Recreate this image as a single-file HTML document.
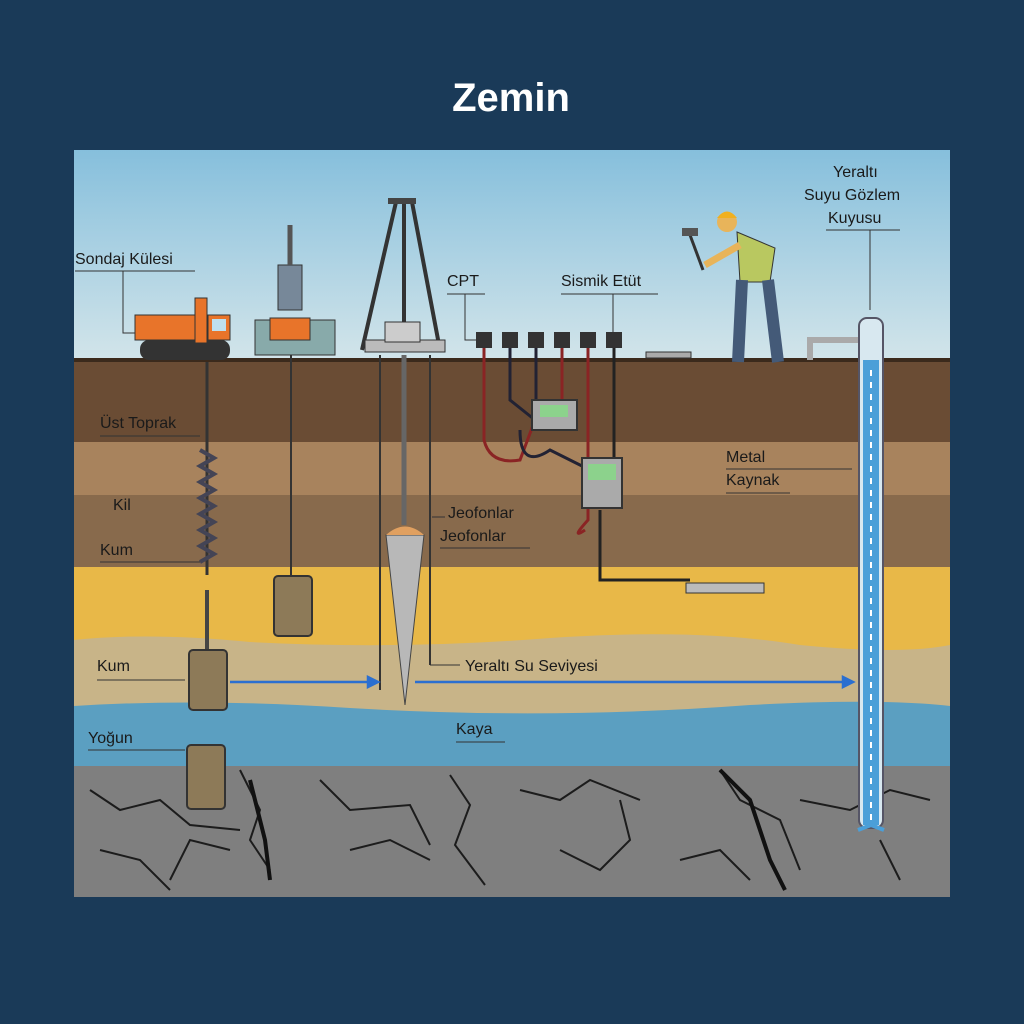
<!DOCTYPE html>
<html><head><meta charset="utf-8"><style>
html,body{margin:0;padding:0;background:#1a3a58;}
svg{display:block}
text{font-family:"Liberation Sans",sans-serif;fill:#1a1a1a}
</style></head><body>
<svg width="1024" height="1024" viewBox="0 0 1024 1024">
<defs>
<linearGradient id="sky" x1="0" y1="0" x2="0" y2="1">
<stop offset="0" stop-color="#86bfdc"/><stop offset="1" stop-color="#d3e5ea"/></linearGradient>
</defs>
<rect width="1024" height="1024" fill="#1a3a58"/>
<text x="511" y="111" text-anchor="middle" font-size="40" font-weight="bold" style="fill:#fff">Zemin</text>
<g>
<rect x="74" y="150" width="876" height="212" fill="url(#sky)"/>
<rect x="74" y="360" width="876" height="82" fill="#6a4c34"/>
<rect x="74" y="442" width="876" height="55" fill="#a8835d"/>
<rect x="74" y="495" width="876" height="72" fill="#886a4c"/>
<rect x="74" y="567" width="876" height="140" fill="#e8b848"/>
<path d="M74 640Q150 632 250 642Q400 650 550 638Q700 628 800 645Q900 655 950 645V730H74Z" fill="#c8b488"/>
<path d="M74 706Q200 698 350 708Q550 720 750 705Q880 698 950 706V768H74Z" fill="#5b9fc1"/>
<rect x="74" y="766" width="876" height="131" fill="#7f7f7f"/>
<g stroke="#1c1c1c" stroke-width="2" fill="none">
<path d="M90 790l30 20 40-10 30 25 50 5M240 770l20 40-10 30 20 30M320 780l30 30 60-5 20 40M450 775l20 30-15 40 30 40M520 790l40 10 30-20 50 20M720 770l20 30 40 20 20 50M620 800l10 40-30 30M800 800l50 10 40-20 40 10M100 850l40 10 30 30M350 850l40-10 40 20M880 840l20 40M170 880l20-40 40 10M560 850l40 20 20-20M680 860l40-10 30 30"/>
</g>
<path d="M250 780l15 60 5 40M720 770l30 30 20 60 15 30" stroke="#111" stroke-width="4" fill="none"/>
</g>
<rect x="74" y="358" width="876" height="4" fill="#3b2a1c"/>
<!-- drill rig 1 -->
<rect x="140" y="340" width="90" height="20" rx="9" fill="#333"/>
<rect x="135" y="315" width="60" height="25" fill="#e8742a" stroke="#333"/>
<rect x="195" y="298" width="12" height="45" fill="#e8742a" stroke="#333"/>
<rect x="208" y="315" width="22" height="25" fill="#e8742a" stroke="#333"/>
<rect x="212" y="319" width="14" height="12" fill="#bfe0ee"/>
<line x1="207" y1="362" x2="207" y2="575" stroke="#333" stroke-width="3"/>
<path d="M200 450l14 8-14 8 14 8-14 8 14 8-14 8 14 8-14 8 14 8-14 8 14 8-14 8 14 8-14 8" stroke="#445" stroke-width="4" fill="none"/>
<line x1="207" y1="590" x2="207" y2="650" stroke="#444" stroke-width="4"/>
<rect x="189" y="650" width="38" height="60" rx="4" fill="#8d7a58" stroke="#333" stroke-width="2"/>
<rect x="187" y="745" width="38" height="64" rx="4" fill="#8d7a58" stroke="#333" stroke-width="2"/>
<!-- rig 2 -->
<rect x="255" y="320" width="80" height="35" fill="#8aa" stroke="#333"/>
<rect x="270" y="318" width="40" height="22" fill="#e8742a" stroke="#333"/>
<rect x="278" y="265" width="24" height="45" fill="#789" stroke="#333"/>
<line x1="290" y1="225" x2="290" y2="265" stroke="#555" stroke-width="5"/>
<line x1="291" y1="355" x2="291" y2="578" stroke="#333" stroke-width="2"/>
<rect x="274" y="576" width="38" height="60" rx="4" fill="#8d7a58" stroke="#333" stroke-width="2"/>
<!-- tripod -->
<path d="M396 202L362 350M412 202L440 350M404 202V330" stroke="#333" stroke-width="4" fill="none"/>
<rect x="388" y="198" width="28" height="6" fill="#444"/>
<rect x="365" y="340" width="80" height="12" fill="#bbb" stroke="#333"/>
<rect x="385" y="322" width="35" height="20" fill="#ccc" stroke="#333"/>
<line x1="380" y1="355" x2="380" y2="690" stroke="#333" stroke-width="2"/>
<line x1="430" y1="355" x2="430" y2="665" stroke="#333" stroke-width="2"/>
<line x1="404" y1="355" x2="404" y2="525" stroke="#666" stroke-width="5"/>
<path d="M386 535L424 535L405 705Z" fill="#b8b8b8" stroke="#444"/>
<path d="M386 535Q405 518 424 535Z" fill="#e0a060"/>
<!-- CPT sensors -->
<g fill="#333"><rect x="476" y="332" width="16" height="16"/><rect x="502" y="332" width="16" height="16"/><rect x="528" y="332" width="16" height="16"/><rect x="554" y="332" width="16" height="16"/><rect x="580" y="332" width="16" height="16"/><rect x="606" y="332" width="16" height="16"/></g>
<g fill="none" stroke-width="3">
<path d="M484 348V440Q490 465 520 460L535 420" stroke="#8a2424"/>
<path d="M510 348V400L535 420" stroke="#223"/>
<path d="M536 348V400" stroke="#223"/>
<path d="M562 348V420M588 348V520Q570 540 585 530" stroke="#8a2424"/>
<path d="M614 348V460M600 510V580H690" stroke="#222"/>
<path d="M520 430Q520 470 550 450L590 470" stroke="#223"/>
</g>
<rect x="532" y="400" width="45" height="30" fill="#aaa" stroke="#333" stroke-width="2"/><rect x="540" y="405" width="28" height="12" fill="#8cd28c"/>
<rect x="582" y="458" width="40" height="50" fill="#aaa" stroke="#333" stroke-width="2"/><rect x="588" y="464" width="28" height="16" fill="#8cd28c"/>
<rect x="686" y="583" width="78" height="10" fill="#bbb" stroke="#333"/>
<rect x="646" y="352" width="45" height="6" fill="#aaa" stroke="#333"/>
<!-- worker -->
<circle cx="727" cy="222" r="10" fill="#e8b45a"/>
<path d="M717 218Q727 205 737 218Z" fill="#f0b020"/>
<path d="M737 232L775 248L770 282L740 282Z" fill="#b9c860" stroke="#333"/>
<path d="M742 280L738 362M768 280L778 362" stroke="#445a78" stroke-width="12"/>
<path d="M740 245L705 265" stroke="#e8b45a" stroke-width="7"/>
<line x1="703" y1="270" x2="690" y2="235" stroke="#333" stroke-width="3"/>
<rect x="682" y="228" width="16" height="8" fill="#555"/>
<!-- well -->
<path d="M810 360V340H858" stroke="#aaa" stroke-width="6" fill="none"/>
<rect x="859" y="318" width="24" height="510" rx="8" fill="#d8e8f0" stroke="#556" stroke-width="2"/>
<rect x="863" y="360" width="16" height="465" fill="#4b9fd8"/>
<line x1="871" y1="370" x2="871" y2="820" stroke="#fff" stroke-width="2" stroke-dasharray="6 6"/>
<path d="M871 825L858 830M871 825L884 830" stroke="#4b9fd8" stroke-width="4"/>
<!-- water arrows -->
<g stroke="#2b6fd0" stroke-width="2.5" fill="#2b6fd0">
<line x1="230" y1="682" x2="370" y2="682"/><path d="M378 682l-10-5v10z"/>
<line x1="415" y1="682" x2="845" y2="682"/><path d="M853 682l-10-5v10z"/>
</g>
<!-- labels -->
<g font-size="16">
<text x="75" y="264">Sondaj Külesi</text><path d="M75 271H195M123 271V333H135" stroke="#333" fill="none"/>
<text x="447" y="286">CPT</text><path d="M447 294H485M465 294V340H476" stroke="#333" fill="none"/>
<text x="561" y="286">Sismik Etüt</text><path d="M561 294H658M613 294V332" stroke="#333" fill="none"/>
<text x="833" y="177">Yeraltı</text><text x="804" y="200">Suyu Gözlem</text><text x="828" y="223">Kuyusu</text>
<path d="M826 230H900M870 230V310" stroke="#333" fill="none"/>
<text x="100" y="428">Üst Toprak</text><path d="M100 436H200" stroke="#333"/>
<text x="113" y="510">Kil</text>
<text x="100" y="555">Kum</text><path d="M100 562H200" stroke="#333"/>
<text x="97" y="671">Kum</text><path d="M97 680H185" stroke="#333"/>
<text x="88" y="743">Yoğun</text><path d="M88 750H185" stroke="#333"/>
<text x="448" y="518">Jeofonlar</text><text x="440" y="541">Jeofonlar</text><path d="M432 517H445M440 548H530" stroke="#333" fill="none"/>
<text x="465" y="671">Yeraltı Su Seviyesi</text><path d="M430 665H460" stroke="#333"/>
<text x="456" y="734">Kaya</text><path d="M456 742H505" stroke="#333"/>
<text x="726" y="462">Metal</text><text x="726" y="485">Kaynak</text><path d="M726 469H852M726 493H790" stroke="#333" fill="none"/>
</g>
</svg>
</body></html>
